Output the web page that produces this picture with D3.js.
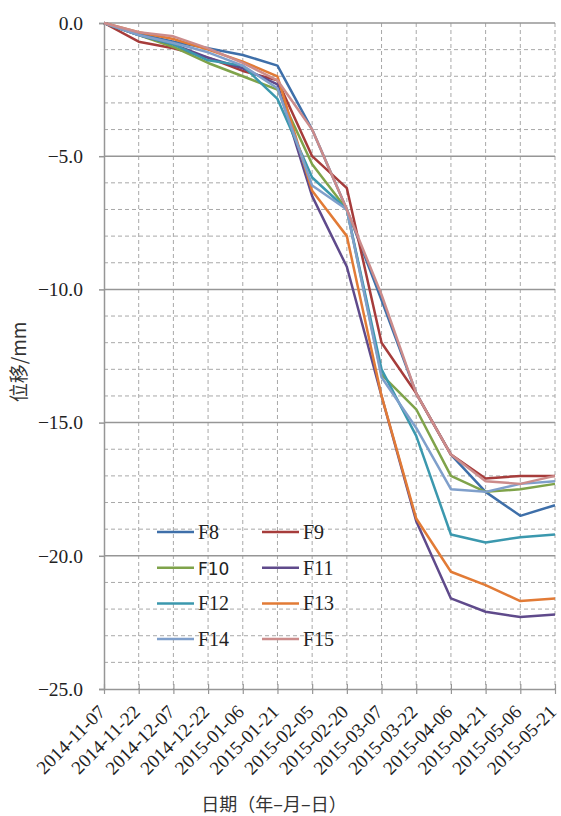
<!DOCTYPE html>
<html><head><meta charset="utf-8">
<script src="https://cdn.jsdelivr.net/npm/d3@7/dist/d3.min.js"></script>
<style>body{margin:0;background:#fff}svg{display:block}
.serif{font-family:"Liberation Serif","Times New Roman","DejaVu Serif",serif}
.cjk{font-family:"Noto Sans CJK SC",sans-serif}
</style>
</head><body>
<script>
const dates = ["2014-11-07","2014-11-22","2014-12-07","2014-12-22","2015-01-06","2015-01-21","2015-02-05","2015-02-20","2015-03-07","2015-03-22","2015-04-06","2015-04-21","2015-05-06","2015-05-21"];
const seriesNames = ["F8","F9","F10","F11","F12","F13","F14","F15"];
const F8  = [0,-0.4,-0.7,-0.95,-1.2,-1.6,-4.0,-7.0,-10.4,-13.9,-16.2,-17.6,-18.5,-18.1];
const F9  = [0,-0.7,-0.95,-1.3,-1.8,-2.15,-5.0,-6.2,-12.0,-13.9,-16.2,-17.1,-17.0,-17.0];
const F10 = [0,-0.45,-0.9,-1.5,-2.0,-2.5,-5.3,-7.0,-13.2,-14.5,-17.0,-17.6,-17.5,-17.3];
const F11 = [0,-0.45,-0.8,-1.3,-1.7,-2.3,-6.5,-9.15,-14.0,-18.7,-21.6,-22.1,-22.3,-22.2];
const F12 = [0,-0.45,-0.8,-1.4,-1.6,-2.85,-5.8,-7.0,-13.0,-15.5,-19.2,-19.5,-19.3,-19.2];
const F13 = [0,-0.35,-0.6,-1.0,-1.45,-2.0,-6.3,-8.0,-14.0,-18.6,-20.6,-21.1,-21.7,-21.6];
const F14 = [0,-0.45,-0.75,-1.1,-1.6,-2.45,-6.1,-7.0,-13.3,-15.2,-17.5,-17.6,-17.3,-17.2];
const F15 = [0,-0.35,-0.5,-0.95,-1.5,-2.15,-4.0,-7.0,-10.2,-13.9,-16.2,-17.2,-17.3,-17.0];
const seriesValues = [F8,F9,F10,F11,F12,F13,F14,F15];
const colors = ["#3e6fa9","#a63c3b","#7fa34a","#5f4a8b","#3b98ae","#e27b36","#7f9fcb","#cc8c8b"];
const yMajorTicks = [0,-5,-10,-15,-20,-25];
const yMinorTicks = d3.range(0,-26,-1);
const xTitle = "日期（年–月–日）";
const yTitle = "位移/mm";

const W=561,H=816;
const m={left:104,right:6,top:23,bottom:127};
const svg=d3.select("body").append("svg").attr("width",W).attr("height",H);
const x=d3.scalePoint().domain(dates).range([m.left,W-m.right]);
const y=d3.scaleLinear().domain([-25,0]).range([H-m.bottom,m.top]);

// minor grid
svg.append("g").selectAll("line").data(yMinorTicks.filter(v=>v%5!==0)).join("line")
 .attr("x1",m.left).attr("x2",W-m.right).attr("y1",d=>y(d)).attr("y2",d=>y(d))
 .attr("stroke","#a8a8a8").attr("stroke-width",1).attr("stroke-dasharray","4,3");
svg.append("g").selectAll("line").data(dates.slice(1)).join("line")
 .attr("x1",d=>x(d)).attr("x2",d=>x(d)).attr("y1",m.top).attr("y2",H-m.bottom)
 .attr("stroke","#a8a8a8").attr("stroke-width",1).attr("stroke-dasharray","4,3");
// major grid
svg.append("g").selectAll("line").data(yMajorTicks.slice(0,-1)).join("line")
 .attr("x1",m.left).attr("x2",W-m.right).attr("y1",d=>y(d)).attr("y2",d=>y(d))
 .attr("stroke","#969696").attr("stroke-width",1.5);

// axes
const ya=svg.append("g").attr("transform",`translate(${m.left},0)`)
 .call(d3.axisLeft(y).tickValues(yMajorTicks).tickSize(5).tickPadding(16).tickFormat(d=>d3.format(".1f")(d).replace("-","−")));
ya.attr("font-family",null).attr("font-size",null);
ya.select(".domain").attr("stroke","#969696").attr("stroke-width",1.5);
ya.selectAll(".tick line").attr("stroke","#969696").attr("stroke-width",1.5);
ya.selectAll("text").attr("class","serif").style("font-size","19.5px").attr("fill","#222");

const xa=svg.append("g").attr("transform",`translate(0,${H-m.bottom})`)
 .call(d3.axisBottom(x).tickSize(5).tickSizeOuter(0));
xa.attr("font-family",null).attr("font-size",null);
xa.select(".domain").attr("stroke","#969696").attr("stroke-width",1.5);
xa.selectAll(".tick line").attr("stroke","#969696").attr("stroke-width",1.2).attr("y1",-5);
xa.selectAll("text").attr("class","serif").style("font-size","19px").attr("fill","#222")
 .attr("text-anchor","end").attr("dy",null).attr("y",null)
 .attr("transform","translate(2,24) rotate(-45)");

// lines
const line=d3.line().x((d,i)=>x(dates[i])).y(d=>y(d));
svg.append("g").selectAll("path").data(seriesValues).join("path")
 .attr("d",line).attr("fill","none").attr("stroke",(d,i)=>colors[i]).attr("stroke-width",2.5)
 .attr("stroke-linejoin","round");

// legend
const lg=svg.append("g");
seriesNames.forEach((n,i)=>{
  const col=i%2,row=Math.floor(i/2);
  const lx=col?262:157, ly=532+row*35.7;
  lg.append("line").attr("x1",lx).attr("x2",lx+37).attr("y1",ly).attr("y2",ly)
   .attr("stroke",colors[i]).attr("stroke-width",2.5);
  const t=lg.append("text").attr("x",lx+41).attr("y",ly+7).text(n).attr("fill","#222");
  if(n==="F10") t.style("font-family","'DejaVu Sans',sans-serif").style("font-size","17px");
  else t.attr("class","serif").style("font-size","20px");
});

// titles
svg.append("text").attr("x",274).attr("y",811).attr("text-anchor","middle").attr("class","cjk")
 .style("font-size","18px").attr("fill","#333").text(xTitle);
svg.append("text").attr("transform","translate(26,362) rotate(-90)").attr("text-anchor","middle").attr("class","cjk")
 .style("font-size","19px").attr("fill","#333").text(yTitle);
</script>
</body></html>
